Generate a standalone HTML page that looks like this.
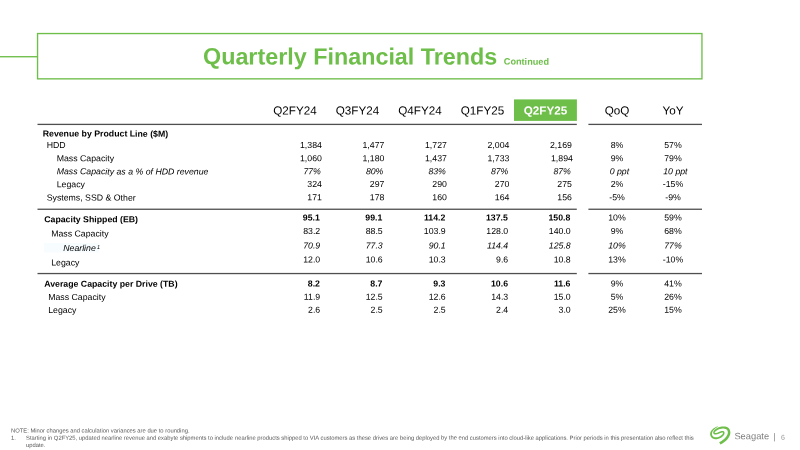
<!DOCTYPE html>
<html><head><meta charset="utf-8"><title>Quarterly Financial Trends</title>
<style>
html,body{margin:0;padding:0;background:#fff;}
body{width:800px;height:450px;position:relative;overflow:hidden;font-family:"Liberation Sans",Arial,sans-serif;color:#000;}
.abs{position:absolute}
.c{position:absolute;font-size:8.75px;line-height:12px;height:12px;white-space:nowrap;color:#000}
.b{font-weight:bold}
.i{font-style:italic}
.r{width:60px;text-align:right}
.m{width:60px;text-align:center}
.sup{font-size:5.5px;position:relative;vertical-align:baseline;line-height:0;top:-2.5px;left:1.1px}
.h{position:absolute;font-size:11.67px;line-height:16px;height:16px;width:70px;text-align:center;white-space:nowrap}
.fn{position:absolute;font-size:5.845px;line-height:7px;color:#555;white-space:pre}
.fc{display:inline-block;white-space:pre}
</style></head><body>
<svg class="abs" style="left:0;top:0" width="800" height="450" viewBox="0 0 800 450">
<rect x="0" y="56.05" width="37.5" height="1.35" fill="#6ebe4a"/>
<rect x="37.55" y="33.55" width="664.4" height="45.3" fill="none" stroke="#6ebe4a" stroke-width="1.35"/>
<rect x="44" y="243" width="55.2" height="9.5" fill="#f7fcfe"/>
<rect x="514" y="99.4" width="62.9" height="21.5" fill="#6ebe4a"/>
<rect x="37.5" y="123.75" width="539.3" height="1.3" fill="#4f4f4f"/><rect x="588.4" y="123.75" width="113.6" height="1.3" fill="#4f4f4f"/>
<rect x="37.5" y="208.6" width="539.3" height="1.3" fill="#4f4f4f"/><rect x="588.4" y="208.6" width="113.6" height="1.3" fill="#4f4f4f"/>
<rect x="37.5" y="272.9" width="539.3" height="1.3" fill="#4f4f4f"/><rect x="588.4" y="272.9" width="113.6" height="1.3" fill="#4f4f4f"/>
</svg>
<div class="abs" style="white-space:nowrap;color:#6ebe4a;font-weight:bold;font-size:23.33px;line-height:38px;left:203px;top:37px;transform:translate(0px,0.5px) rotate(0.05deg)">Quarterly Financial Trends <span style="font-size:9.17px">Continued</span></div>

<div class="h" style="left:260px;top:102px;transform:translate(0px,0.5px) rotate(0.05deg)">Q2FY24</div>
<div class="h" style="left:322px;top:102px;transform:translate(0.5px,0.5px) rotate(0.05deg)">Q3FY24</div>
<div class="h" style="left:385px;top:102px;transform:translate(0px,0.5px) rotate(0.05deg)">Q4FY24</div>
<div class="h" style="left:447px;top:102px;transform:translate(0.5px,0.5px) rotate(0.05deg)">Q1FY25</div>
<div class="h" style="color:#fff;font-weight:bold;left:510px;top:102px;transform:translate(0.5px,0.5px) rotate(0.05deg)">Q2FY25</div>
<div class="h" style="left:582px;top:102px;transform:translate(0px,0.5px) rotate(0.05deg)">QoQ</div>
<div class="h" style="left:638px;top:102px;transform:translate(0px,0.5px) rotate(0.05deg)">YoY</div>

<div class="c b l" style="left:42px;top:127px;transform:translate(0.7px,0.6px) rotate(0.05deg)">Revenue by Product Line ($M)</div>
<div class="c  l" style="left:46px;top:139px;transform:translate(0.7px,0.0px) rotate(0.05deg)">HDD</div>
<div class="c  r" style="left:261px;top:139px;transform:translate(0.9px,0.0px) rotate(0.05deg)">1,384</div>
<div class="c  r" style="left:324px;top:139px;transform:translate(0.4px,0.0px) rotate(0.05deg)">1,477</div>
<div class="c  r" style="left:386px;top:139px;transform:translate(0.9px,0.0px) rotate(0.05deg)">1,727</div>
<div class="c  r" style="left:449px;top:139px;transform:translate(0.4px,0.0px) rotate(0.05deg)">2,004</div>
<div class="c  r" style="left:511px;top:139px;transform:translate(0.9px,0.0px) rotate(0.05deg)">2,169</div>
<div class="c  m" style="left:587px;top:139px;transform:translate(0px,0.0px) rotate(0.05deg)">8%</div>
<div class="c  m" style="left:643px;top:139px;transform:translate(0px,0.0px) rotate(0.05deg)">57%</div>
<div class="c  l" style="left:56px;top:152px;transform:translate(0.7px,0.25px) rotate(0.05deg)">Mass Capacity</div>
<div class="c  r" style="left:261px;top:152px;transform:translate(0.9px,0.2px) rotate(0.05deg)">1,060</div>
<div class="c  r" style="left:324px;top:152px;transform:translate(0.4px,0.2px) rotate(0.05deg)">1,180</div>
<div class="c  r" style="left:386px;top:152px;transform:translate(0.9px,0.2px) rotate(0.05deg)">1,437</div>
<div class="c  r" style="left:449px;top:152px;transform:translate(0.4px,0.2px) rotate(0.05deg)">1,733</div>
<div class="c  r" style="left:512px;top:152px;transform:translate(0.9px,0.2px) rotate(0.05deg)">1,894</div>
<div class="c  m" style="left:587px;top:152px;transform:translate(0px,0.2px) rotate(0.05deg)">9%</div>
<div class="c  m" style="left:643px;top:152px;transform:translate(0px,0.2px) rotate(0.05deg)">79%</div>
<div class="c i l" style="left:56px;top:165px;transform:translate(0.7px,0.4px) rotate(0.05deg)">Mass Capacity as a % of HDD revenue</div>
<div class="c i r" style="left:260px;top:165px;transform:translate(0.9px,0.2px) rotate(0.05deg)">77%</div>
<div class="c i r" style="left:323px;top:165px;transform:translate(0.4px,0.2px) rotate(0.05deg)">80%</div>
<div class="c i r" style="left:385px;top:165px;transform:translate(0.9px,0.2px) rotate(0.05deg)">83%</div>
<div class="c i r" style="left:448px;top:165px;transform:translate(0.4px,0.2px) rotate(0.05deg)">87%</div>
<div class="c i r" style="left:510px;top:165px;transform:translate(0.9px,0.2px) rotate(0.05deg)">87%</div>
<div class="c i m" style="left:589px;top:165px;transform:translate(0.4px,0.2px) rotate(0.05deg)">0 ppt</div>
<div class="c i m" style="left:645px;top:165px;transform:translate(0.4px,0.2px) rotate(0.05deg)">10 ppt</div>
<div class="c  l" style="left:56px;top:178px;transform:translate(0.7px,0.25px) rotate(0.05deg)">Legacy</div>
<div class="c  r" style="left:261px;top:178px;transform:translate(0.9px,0.0px) rotate(0.05deg)">324</div>
<div class="c  r" style="left:324px;top:178px;transform:translate(0.4px,0.0px) rotate(0.05deg)">297</div>
<div class="c  r" style="left:386px;top:178px;transform:translate(0.9px,0.0px) rotate(0.05deg)">290</div>
<div class="c  r" style="left:449px;top:178px;transform:translate(0.4px,0.0px) rotate(0.05deg)">270</div>
<div class="c  r" style="left:511px;top:178px;transform:translate(0.9px,0.0px) rotate(0.05deg)">275</div>
<div class="c  m" style="left:587px;top:178px;transform:translate(0px,0.0px) rotate(0.05deg)">2%</div>
<div class="c  m" style="left:643px;top:178px;transform:translate(0px,0.0px) rotate(0.05deg)">-15%</div>
<div class="c  l" style="left:46px;top:191px;transform:translate(0.7px,0.6px) rotate(0.05deg)">Systems, SSD &amp; Other</div>
<div class="c  r" style="left:261px;top:191px;transform:translate(0.9px,0.2px) rotate(0.05deg)">171</div>
<div class="c  r" style="left:324px;top:191px;transform:translate(0.4px,0.2px) rotate(0.05deg)">178</div>
<div class="c  r" style="left:386px;top:191px;transform:translate(0.9px,0.2px) rotate(0.05deg)">160</div>
<div class="c  r" style="left:449px;top:191px;transform:translate(0.4px,0.2px) rotate(0.05deg)">164</div>
<div class="c  r" style="left:511px;top:191px;transform:translate(0.9px,0.2px) rotate(0.05deg)">156</div>
<div class="c  m" style="left:587px;top:191px;transform:translate(0px,0.2px) rotate(0.05deg)">-5%</div>
<div class="c  m" style="left:643px;top:191px;transform:translate(0px,0.2px) rotate(0.05deg)">-9%</div>
<div class="c b l" style="left:44px;top:213px;transform:translate(0.2px,0.2px) rotate(0.05deg)">Capacity Shipped (EB)</div>
<div class="c b r" style="left:259px;top:211px;transform:translate(0.9px,0.6px) rotate(0.05deg)">95.1</div>
<div class="c b r" style="left:322px;top:211px;transform:translate(0.4px,0.6px) rotate(0.05deg)">99.1</div>
<div class="c b r" style="left:385px;top:211px;transform:translate(0.4px,0.6px) rotate(0.05deg)">114.2</div>
<div class="c b r" style="left:447px;top:211px;transform:translate(0.9px,0.6px) rotate(0.05deg)">137.5</div>
<div class="c b r" style="left:510px;top:211px;transform:translate(0.4px,0.6px) rotate(0.05deg)">150.8</div>
<div class="c  m" style="left:587px;top:211px;transform:translate(0px,0.6px) rotate(0.05deg)">10%</div>
<div class="c  m" style="left:643px;top:211px;transform:translate(0px,0.6px) rotate(0.05deg)">59%</div>
<div class="c  l" style="left:51px;top:227px;transform:translate(0.2px,0.6px) rotate(0.05deg)">Mass Capacity</div>
<div class="c  r" style="left:260px;top:225px;transform:translate(0.2px,0.0px) rotate(0.05deg)">83.2</div>
<div class="c  r" style="left:322px;top:225px;transform:translate(0.7px,0.0px) rotate(0.05deg)">88.5</div>
<div class="c  r" style="left:385px;top:225px;transform:translate(0.7px,0.0px) rotate(0.05deg)">103.9</div>
<div class="c  r" style="left:448px;top:225px;transform:translate(0.2px,0.0px) rotate(0.05deg)">128.0</div>
<div class="c  r" style="left:510px;top:225px;transform:translate(0.7px,0.0px) rotate(0.05deg)">140.0</div>
<div class="c  m" style="left:587px;top:225px;transform:translate(0px,0.0px) rotate(0.05deg)">9%</div>
<div class="c  m" style="left:643px;top:225px;transform:translate(0px,0.0px) rotate(0.05deg)">68%</div>
<div class="c i l" style="left:63px;top:241px;transform:translate(0.2px,0.9px) rotate(0.05deg)">Nearline<sup class="sup">1</sup></div>
<div class="c i r" style="left:260px;top:239px;transform:translate(0.2px,0.5px) rotate(0.05deg)">70.9</div>
<div class="c i r" style="left:322px;top:239px;transform:translate(0.7px,0.5px) rotate(0.05deg)">77.3</div>
<div class="c i r" style="left:385px;top:239px;transform:translate(0.7px,0.5px) rotate(0.05deg)">90.1</div>
<div class="c i r" style="left:448px;top:239px;transform:translate(0.2px,0.5px) rotate(0.05deg)">114.4</div>
<div class="c i r" style="left:510px;top:239px;transform:translate(0.7px,0.5px) rotate(0.05deg)">125.8</div>
<div class="c i m" style="left:587px;top:239px;transform:translate(0px,0.5px) rotate(0.05deg)">10%</div>
<div class="c i m" style="left:643px;top:239px;transform:translate(0px,0.5px) rotate(0.05deg)">77%</div>
<div class="c  l" style="left:51px;top:256px;transform:translate(0.2px,0.4px) rotate(0.05deg)">Legacy</div>
<div class="c  r" style="left:260px;top:253px;transform:translate(0.2px,0.5px) rotate(0.05deg)">12.0</div>
<div class="c  r" style="left:322px;top:253px;transform:translate(0.7px,0.5px) rotate(0.05deg)">10.6</div>
<div class="c  r" style="left:385px;top:253px;transform:translate(0.7px,0.5px) rotate(0.05deg)">10.3</div>
<div class="c  r" style="left:448px;top:253px;transform:translate(0.2px,0.5px) rotate(0.05deg)">9.6</div>
<div class="c  r" style="left:510px;top:253px;transform:translate(0.7px,0.5px) rotate(0.05deg)">10.8</div>
<div class="c  m" style="left:587px;top:253px;transform:translate(0px,0.5px) rotate(0.05deg)">13%</div>
<div class="c  m" style="left:643px;top:253px;transform:translate(0px,0.5px) rotate(0.05deg)">-10%</div>
<div class="c b l" style="left:44px;top:277px;transform:translate(0.2px,0.8px) rotate(0.05deg)">Average Capacity per Drive (TB)</div>
<div class="c b r" style="left:260px;top:277px;transform:translate(0.0px,0.55px) rotate(0.05deg)">8.2</div>
<div class="c b r" style="left:322px;top:277px;transform:translate(0.5px,0.55px) rotate(0.05deg)">8.7</div>
<div class="c b r" style="left:385px;top:277px;transform:translate(0.5px,0.55px) rotate(0.05deg)">9.3</div>
<div class="c b r" style="left:448px;top:277px;transform:translate(0.0px,0.55px) rotate(0.05deg)">10.6</div>
<div class="c b r" style="left:510px;top:277px;transform:translate(0.5px,0.55px) rotate(0.05deg)">11.6</div>
<div class="c  m" style="left:587px;top:277px;transform:translate(0px,0.55px) rotate(0.05deg)">9%</div>
<div class="c  m" style="left:643px;top:277px;transform:translate(0px,0.55px) rotate(0.05deg)">41%</div>
<div class="c  l" style="left:48px;top:291px;transform:translate(0.2px,0.0px) rotate(0.05deg)">Mass Capacity</div>
<div class="c  r" style="left:260px;top:290px;transform:translate(0.2px,0.8px) rotate(0.05deg)">11.9</div>
<div class="c  r" style="left:322px;top:290px;transform:translate(0.7px,0.8px) rotate(0.05deg)">12.5</div>
<div class="c  r" style="left:385px;top:290px;transform:translate(0.7px,0.8px) rotate(0.05deg)">12.6</div>
<div class="c  r" style="left:448px;top:290px;transform:translate(0.2px,0.8px) rotate(0.05deg)">14.3</div>
<div class="c  r" style="left:510px;top:290px;transform:translate(0.7px,0.8px) rotate(0.05deg)">15.0</div>
<div class="c  m" style="left:587px;top:290px;transform:translate(0px,0.8px) rotate(0.05deg)">5%</div>
<div class="c  m" style="left:643px;top:290px;transform:translate(0px,0.8px) rotate(0.05deg)">26%</div>
<div class="c  l" style="left:48px;top:304px;transform:translate(0.2px,0.0px) rotate(0.05deg)">Legacy</div>
<div class="c  r" style="left:260px;top:303px;transform:translate(0.2px,0.8px) rotate(0.05deg)">2.6</div>
<div class="c  r" style="left:322px;top:303px;transform:translate(0.7px,0.8px) rotate(0.05deg)">2.5</div>
<div class="c  r" style="left:385px;top:303px;transform:translate(0.7px,0.8px) rotate(0.05deg)">2.5</div>
<div class="c  r" style="left:448px;top:303px;transform:translate(0.2px,0.8px) rotate(0.05deg)">2.4</div>
<div class="c  r" style="left:510px;top:303px;transform:translate(0.7px,0.8px) rotate(0.05deg)">3.0</div>
<div class="c  m" style="left:587px;top:303px;transform:translate(0px,0.8px) rotate(0.05deg)">25%</div>
<div class="c  m" style="left:643px;top:303px;transform:translate(0px,0.8px) rotate(0.05deg)">15%</div>

<div class="fn" style="left:11.3px;top:427px"><span class="fc" style="transform:translate(0,0.5px) rotate(0.04deg)">NOTE: Minor changes and calculation variances are due to rounding.</span></div>
<div class="fn" style="left:11.3px;top:434px"><span class="fc" style="transform:translate(0,0.7px) rotate(0.04deg)">1.</span></div>
<div class="fn" style="left:26.2px;top:434px"><span class="fc" style="transform:translate(0,0.7px) rotate(0.04deg)">Starting in Q2FY25, updated nearline revenue and exabyte shipments to include </span><span class="fc" style="transform:translate(0,0.7px) rotate(0.04deg)">nearline products shipped to VIA customers as these drives are being deployed </span><span class="fc" style="transform:translate(0,0.7px) rotate(0.04deg)">by the end customers into cloud-like applications. Prior periods in this presentation also reflect this</span></div>
<div class="fn" style="left:26.2px;top:442px"><span class="fc" style="transform:translate(0,0.0px) rotate(0.04deg)">update.</span></div>

<svg class="abs" style="left:0;top:0" width="800" height="450" viewBox="0 0 800 450"><path d="M720.49 444.46 L720.94 444.20 L721.39 443.94 L721.85 443.69 L722.32 443.42 L722.80 443.14 L723.28 442.85 L723.76 442.53 L724.24 442.19 L724.69 441.85 L725.15 441.49 L725.60 441.11 L726.04 440.72 L726.48 440.32 L726.91 439.90 L727.31 439.46 L727.69 439.01 L728.05 438.54 L728.39 438.06 L728.71 437.56 L729.01 437.05 L729.28 436.55 L729.53 436.05 L729.74 435.55 L729.93 435.07 L730.08 434.59 L730.20 434.13 L730.28 433.67 L730.33 433.21 L730.35 432.77 L730.35 432.33 L730.31 431.90 L730.25 431.48 L730.17 431.06 L730.05 430.63 L729.91 430.20 L729.74 429.77 L729.54 429.35 L729.30 428.95 L729.02 428.56 L728.70 428.20 L728.34 427.87 L727.96 427.60 L727.56 427.36 L727.15 427.16 L726.73 426.99 L726.31 426.85 L725.89 426.72 L725.47 426.62 L725.04 426.54 L724.59 426.48 L724.14 426.45 L723.69 426.43 L723.24 426.44 L722.79 426.46 L722.33 426.49 L721.88 426.54 L721.43 426.60 L720.95 426.68 L720.47 426.78 L719.99 426.89 L719.51 427.01 L719.03 427.15 L718.56 427.32 L718.11 427.50 L717.67 427.70 L717.24 427.93 L716.82 428.18 L716.41 428.44 L716.02 428.70 L715.65 428.98 L715.31 429.26 L714.99 429.54 L714.69 429.82 L714.40 430.12 L714.14 430.43 L713.89 430.75 L713.67 431.07 L713.48 431.40 L713.33 431.73 L713.22 432.08 L713.17 432.44 L713.19 432.80 L713.26 433.14 L713.39 433.47 L713.57 433.77 L713.81 434.03 L714.10 434.26 L714.44 434.42 L714.81 434.51 L715.19 434.54 L715.57 434.52 L715.96 434.49 L716.35 434.43 L716.75 434.35 L717.13 434.26 L717.52 434.17 L717.91 434.05 L718.32 433.91 L718.71 433.75 L719.11 433.58 L719.49 433.41 L719.85 433.25 L720.18 433.12 L720.50 433.00 L720.82 432.89 L721.14 432.78 L721.45 432.68 L721.74 432.59 L722.00 432.52 L722.22 432.48 L722.40 432.45 L722.52 432.45 L722.63 432.47 L722.73 432.50 L722.82 432.54 L722.89 432.58 L722.93 432.62 L722.96 432.66 L722.98 432.69 L722.99 432.72 L722.99 432.80 L722.99 432.94 L722.96 433.12 L722.91 433.32 L722.84 433.54 L722.75 433.76 L722.64 433.97 L722.50 434.17 L722.34 434.38 L722.12 434.60 L721.87 434.84 L721.59 435.08 L721.29 435.32 L720.98 435.56 L720.66 435.77 L720.35 435.97 L720.04 436.16 L719.72 436.34 L719.39 436.51 L719.05 436.67 L718.71 436.81 L718.37 436.93 L718.02 437.04 L717.68 437.13 L717.32 437.21 L716.95 437.27 L716.58 437.32 L716.20 437.35 L715.84 437.36 L715.49 437.36 L715.17 437.33 L714.88 437.27 L714.58 437.19 L714.28 437.09 L713.97 436.95 L713.68 436.80 L713.40 436.64 L713.15 436.46 L712.93 436.27 L712.75 436.09 L712.60 435.90 L712.45 435.67 L712.32 435.41 L712.21 435.14 L712.11 434.85 L712.04 434.55 L711.98 434.27 L711.95 434.00 L711.94 433.74 L711.95 433.48 L711.98 433.20 L712.03 432.92 L712.10 432.63 L712.19 432.34 L712.31 432.05 L712.43 431.76 L712.58 431.48 L712.75 431.19 L712.96 430.90 L713.19 430.60 L713.43 430.30 L713.69 430.00 L713.94 429.72 L714.20 429.45 L714.45 429.20 L714.71 428.96 L714.99 428.73 L715.27 428.50 L715.55 428.29 L715.83 428.08 L716.10 427.89 L716.35 427.71 L716.57 427.55 L716.78 427.41 L716.98 427.28 L717.17 427.17 L717.37 427.05 L717.57 426.94 L717.77 426.82 L717.97 426.70 L717.82 426.36 L717.60 426.43 L717.38 426.49 L717.16 426.56 L716.94 426.62 L716.71 426.69 L716.46 426.78 L716.21 426.88 L715.93 427.01 L715.65 427.15 L715.35 427.31 L715.03 427.49 L714.71 427.68 L714.38 427.88 L714.04 428.10 L713.72 428.33 L713.40 428.58 L713.10 428.83 L712.79 429.09 L712.47 429.38 L712.16 429.67 L711.86 429.99 L711.57 430.31 L711.31 430.65 L711.07 431.00 L710.87 431.35 L710.69 431.71 L710.53 432.08 L710.39 432.47 L710.28 432.86 L710.20 433.26 L710.15 433.68 L710.15 434.09 L710.18 434.50 L710.24 434.92 L710.34 435.34 L710.47 435.76 L710.63 436.17 L710.83 436.58 L711.06 436.96 L711.34 437.32 L711.65 437.64 L712.00 437.94 L712.37 438.20 L712.77 438.44 L713.18 438.65 L713.60 438.83 L714.04 438.98 L714.48 439.10 L714.94 439.17 L715.40 439.21 L715.87 439.21 L716.34 439.19 L716.80 439.14 L717.25 439.07 L717.69 438.98 L718.11 438.88 L718.54 438.77 L718.96 438.62 L719.38 438.46 L719.78 438.29 L720.18 438.09 L720.56 437.89 L720.94 437.67 L721.30 437.44 L721.65 437.19 L722.01 436.93 L722.36 436.65 L722.69 436.35 L723.02 436.05 L723.32 435.74 L723.59 435.42 L723.83 435.10 L724.03 434.77 L724.20 434.42 L724.34 434.07 L724.44 433.73 L724.51 433.39 L724.55 433.06 L724.55 432.73 L724.51 432.41 L724.41 432.09 L724.26 431.79 L724.05 431.54 L723.81 431.33 L723.55 431.16 L723.26 431.04 L722.96 430.95 L722.64 430.90 L722.30 430.90 L721.96 430.94 L721.63 431.01 L721.30 431.09 L720.97 431.20 L720.64 431.31 L720.32 431.42 L719.98 431.54 L719.61 431.67 L719.24 431.83 L718.86 432.01 L718.48 432.18 L718.11 432.35 L717.76 432.50 L717.43 432.63 L717.11 432.73 L716.78 432.82 L716.43 432.91 L716.08 432.99 L715.75 433.05 L715.45 433.09 L715.20 433.10 L715.01 433.09 L714.91 433.07 L714.87 433.04 L714.82 433.00 L714.77 432.93 L714.74 432.85 L714.71 432.75 L714.70 432.64 L714.71 432.55 L714.73 432.46 L714.78 432.34 L714.88 432.18 L715.01 431.98 L715.19 431.76 L715.39 431.53 L715.62 431.30 L715.87 431.07 L716.12 430.86 L716.40 430.65 L716.71 430.44 L717.04 430.23 L717.39 430.03 L717.75 429.84 L718.12 429.66 L718.49 429.49 L718.86 429.35 L719.23 429.22 L719.62 429.10 L720.03 428.99 L720.45 428.90 L720.87 428.81 L721.30 428.74 L721.71 428.69 L722.11 428.65 L722.50 428.62 L722.88 428.60 L723.26 428.60 L723.63 428.61 L723.99 428.64 L724.32 428.68 L724.65 428.73 L724.96 428.80 L725.27 428.89 L725.59 429.00 L725.89 429.12 L726.17 429.25 L726.43 429.39 L726.66 429.53 L726.84 429.68 L727.00 429.83 L727.13 430.00 L727.26 430.21 L727.38 430.45 L727.50 430.71 L727.60 431.00 L727.68 431.29 L727.74 431.58 L727.79 431.87 L727.82 432.15 L727.84 432.43 L727.84 432.71 L727.82 432.99 L727.78 433.27 L727.72 433.57 L727.64 433.88 L727.53 434.20 L727.38 434.56 L727.21 434.94 L727.00 435.35 L726.76 435.77 L726.51 436.18 L726.24 436.59 L725.95 436.99 L725.66 437.36 L725.36 437.72 L725.03 438.07 L724.67 438.43 L724.29 438.78 L723.90 439.12 L723.49 439.46 L723.08 439.78 L722.68 440.09 L722.29 440.37 L721.88 440.64 L721.46 440.90 L721.02 441.15 L720.57 441.40 L720.11 441.66 L719.63 441.93 L719.17 442.20Z" fill="#6ebe4a"/>
<rect x="774.25" y="433.1" width="0.75" height="8.3" fill="#8a8a8a"/></svg>
<div class="abs" style="font-size:9.33px;line-height:12px;color:#7f7f7f;white-space:nowrap;left:734px;top:430px;transform:translate(0.4px,0.25px) rotate(0.05deg)">Seagate</div>
<div class="abs" style="font-size:7px;line-height:9px;color:#999;left:781px;top:432px;transform:translate(0px,0.75px) rotate(0.05deg)">6</div>
</body></html>
